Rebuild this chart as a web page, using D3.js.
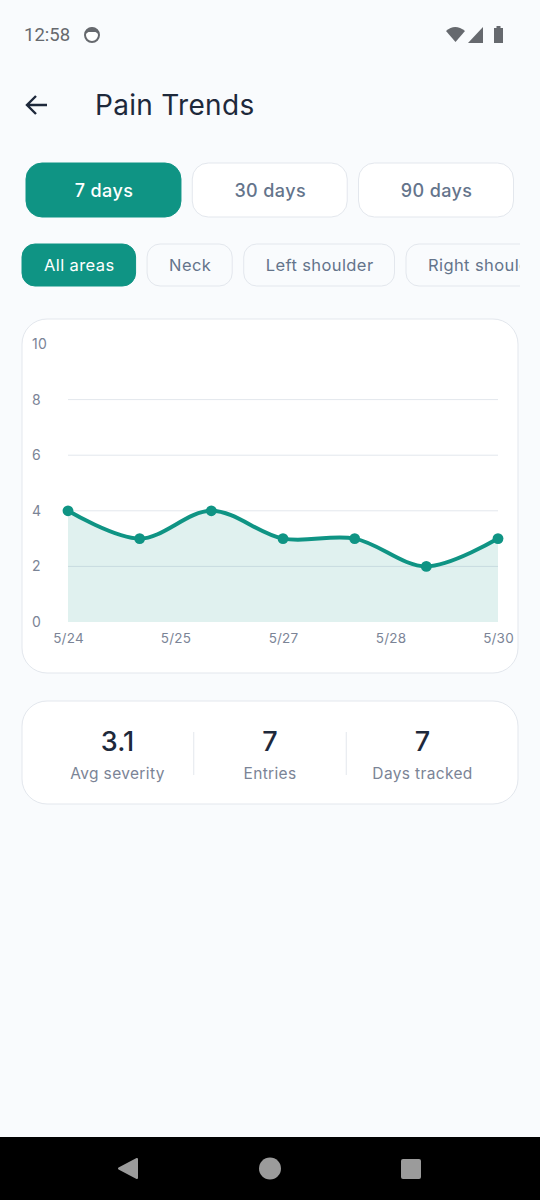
<!DOCTYPE html>
<html>
<head>
<meta charset="utf-8">
<title>Pain Trends</title>
<script src="https://cdn.jsdelivr.net/npm/d3@7"></script>
<style>
    html, body { margin: 0; padding: 0; background: #f9fbfd; }
    svg { display: block; font-family: Inter, "Noto Sans", sans-serif; }
</style>
</head>
<body>
<svg id="screen" width="540" height="1200"></svg>
<script>
const DATES = ["2025-05-24", "2025-05-25", "2025-05-26", "2025-05-27", "2025-05-28", "2025-05-29", "2025-05-30"];
const SEVERITY = [4, 3, 4, 3, 3, 2, 3];
const Y_TICKS = [0, 2, 4, 6, 8, 10];
const X_TICKS = ["2025-05-24T00:00", "2025-05-25T12:00", "2025-05-27T00:00", "2025-05-28T12:00", "2025-05-30T00:00"];
const PERIODS = ["7 days", "30 days", "90 days"];
const AREAS = ["All areas", "Neck", "Left shoulder", "Right shoulder"];
const STAT_VALUES = ["3.1", "7", "7"];
const STAT_LABELS = ["Avg severity", "Entries", "Days tracked"];

const TEAL = "#0f9484";
const INK = "#1e293b";
const MUTED = "#64748b";
const LIGHT = "#7b8496";
const BORDER = "#e3e7ed";

let mSvg = d3.select("#screen");
let parseDay = d => new Date(d + (d.length == 10 ? "T00:00" : ""));

function addCard(x, y, width, height, radius, fill, stroke) {
    return mSvg.append("rect")
        .attr("x", x).attr("y", y)
        .attr("width", width).attr("height", height)
        .attr("rx", radius)
        .attr("fill", fill)
        .attr("stroke", stroke)
        .attr("stroke-width", 1);
}

function addText(parent, text, x, y, size, color, weight, anchor, spacing) {
    return parent.append("text")
        .attr("x", x).attr("y", y)
        .attr("font-size", size)
        .attr("font-weight", weight || 400)
        .attr("fill", color)
        .attr("text-anchor", anchor || "start")
        .attr("letter-spacing", spacing || 0)
        .text(text);
}

function drawStatusBar() {
    addText(mSvg, "12:58", 24, 41, 18.5, "#66696e").style("font-family", "Roboto");
    mSvg.append("circle").attr("cx", 92).attr("cy", 35).attr("r", 7).attr("fill", "#fff")
        .attr("stroke", "#66696e").attr("stroke-width", 2);
    mSvg.append("path").attr("d", "M85.5 34a6.5 6.5 0 0 1 13 0l-3 -2h-7z").attr("fill", "#66696e");
    mSvg.append("path").attr("d", "M446 31q9 -8 19 0l-9.500 11z").attr("fill", "#66696e");
    mSvg.append("path").attr("d", "M468 43l15 -16v16z").attr("fill", "#66696e");
    mSvg.append("path").attr("d", "M494 28h2.500v-2h4v2h2.500v15h-9z").attr("fill", "#66696e");
}

function drawHeader() {
    mSvg.append("path")
        .attr("d", "M47 105H27M36 96l-9 9 9 9")
        .attr("fill", "none")
        .attr("stroke", INK)
        .attr("stroke-width", 2.4);
    addText(mSvg, "Pain Trends", 95, 115, 28, INK, 400, "start", 0.3);
}

function drawPeriodButtons() {
    let x = d3.scaleBand().domain(PERIODS).range([26, 513.5]).paddingInner(0.068).paddingOuter(0);
    PERIODS.forEach((label, index) => {
        let active = index == 0;
        addCard(x(label), 163, x.bandwidth(), 54, 16, active ? TEAL : "#fff", active ? TEAL : BORDER);
        addText(mSvg, label, x(label) + x.bandwidth() / 2 + 0.5, 196.5, 18, active ? "#fff" : MUTED, 500, "middle", 0.4);
    });
}

function drawAreaChips() {
    // the row scrolls sideways in the app so the last chip gets cut off
    mSvg.append("clipPath").attr("id", "chip-clip")
        .append("rect").attr("x", 0).attr("y", 230).attr("width", 520).attr("height", 70);
    let row = mSvg.append("g").attr("clip-path", "url(#chip-clip)");
    let left = 22;
    AREAS.forEach((label, index) => {
        let active = index == 0;
        let chip = row.append("g");
        let rect = chip.append("rect");
        let text = addText(chip, label, left + 22, 271, 16.5, active ? "#fff" : MUTED, 400, "start", 0.4);
        let width = text.node().getComputedTextLength() + 43;
        rect.attr("x", left).attr("y", 244)
            .attr("width", width).attr("height", 42)
            .attr("rx", 13)
            .attr("fill", active ? TEAL : "#f9fbfd")
            .attr("stroke", active ? TEAL : BORDER);
        left += width + 11.5;
    });
}

function drawChart() {
    addCard(22, 319, 496, 354, 25, "#fff", BORDER);

    let points = DATES.map((d, i) => ({ date: parseDay(d), value: SEVERITY[i] }));
    let x = d3.scaleTime().domain(d3.extent(points, p => p.date)).range([68, 498]);
    let y = d3.scaleLinear().domain([0, 10]).range([622, 344]);

    mSvg.append("g")
        .selectAll("line")
        .data(Y_TICKS.filter(t => t != 0 && t != 10))
        .join("line")
        .attr("x1", x.range()[0]).attr("x2", x.range()[1])
        .attr("y1", t => y(t)).attr("y2", t => y(t))
        .attr("stroke", "#e3e7ed")
        .attr("stroke-width", 1);

    let yAxis = mSvg.append("g")
        .attr("transform", "translate(32,0)")
        .call(d3.axisLeft(y).tickValues(Y_TICKS).tickSize(0).tickPadding(0));
    yAxis.select(".domain").remove();
    yAxis.selectAll("text")
        .attr("x", 0).attr("dy", "0.32em")
        .attr("text-anchor", "start")
        .attr("font-family", "Inter")
        .attr("font-size", 14)
        .attr("letter-spacing", 0.2)
        .attr("fill", LIGHT);

    let xAxis = mSvg.append("g")
        .attr("transform", "translate(0,622)")
        .call(d3.axisBottom(x)
            .tickValues(X_TICKS.map(parseDay))
            .tickFormat(d3.timeFormat("%-m/%-d"))
            .tickSize(0).tickPadding(11));
    xAxis.select(".domain").remove();
    xAxis.selectAll("text")
        .attr("font-family", "Inter")
        .attr("font-size", 13.5)
        .attr("letter-spacing", 0.2)
        .attr("fill", LIGHT);

    let curve = d3.curveCatmullRom.alpha(0.5);
    let area = d3.area().x(p => x(p.date)).y0(y(0)).y1(p => y(p.value)).curve(curve);
    let line = d3.line().x(p => x(p.date)).y(p => y(p.value)).curve(curve);

    mSvg.append("path").datum(points).attr("d", area).attr("fill", TEAL).attr("fill-opacity", 0.13);
    mSvg.append("path").datum(points).attr("d", line)
        .attr("fill", "none")
        .attr("stroke", TEAL)
        .attr("stroke-width", 4);
    mSvg.append("g").selectAll("circle")
        .data(points)
        .join("circle")
        .attr("cx", p => x(p.date))
        .attr("cy", p => y(p.value))
        .attr("r", 5.4)
        .attr("fill", TEAL);
}

function drawStats() {
    addCard(22, 701, 496, 103, 25, "#fff", BORDER);
    let x = d3.scalePoint().domain(d3.range(STAT_VALUES.length)).range([117.5, 422.5]);
    STAT_VALUES.forEach((value, index) => {
        addText(mSvg, value, x(index), 750.5, 27, INK, 500, "middle");
        addText(mSvg, STAT_LABELS[index], x(index), 779, 15.5, LIGHT, 400, "middle", 0.35);
        if (index > 0) {
            let divider = x(index) - x.step() / 2;
            mSvg.append("line")
                .attr("x1", divider).attr("x2", divider)
                .attr("y1", 732).attr("y2", 775)
                .attr("stroke", BORDER);
        }
    });
}

function drawNavBar() {
    mSvg.append("rect").attr("x", 0).attr("y", 1137).attr("width", 540).attr("height", 63).attr("fill", "#000");
    mSvg.append("path")
        .attr("d", "M137 1159v19l-18 -9.500z")
        .attr("fill", "#9b9b9b").attr("stroke", "#9b9b9b").attr("stroke-width", 2).attr("stroke-linejoin", "round");
    mSvg.append("circle").attr("cx", 270).attr("cy", 1168.500).attr("r", 11).attr("fill", "#9b9b9b");
    mSvg.append("rect").attr("x", 401).attr("y", 1159).attr("width", 20).attr("height", 20).attr("rx", 2).attr("fill", "#9b9b9b");
}

drawStatusBar();
drawHeader();
drawPeriodButtons();
drawAreaChips();
drawChart();
drawStats();
drawNavBar();
</script>
</body>
</html>
